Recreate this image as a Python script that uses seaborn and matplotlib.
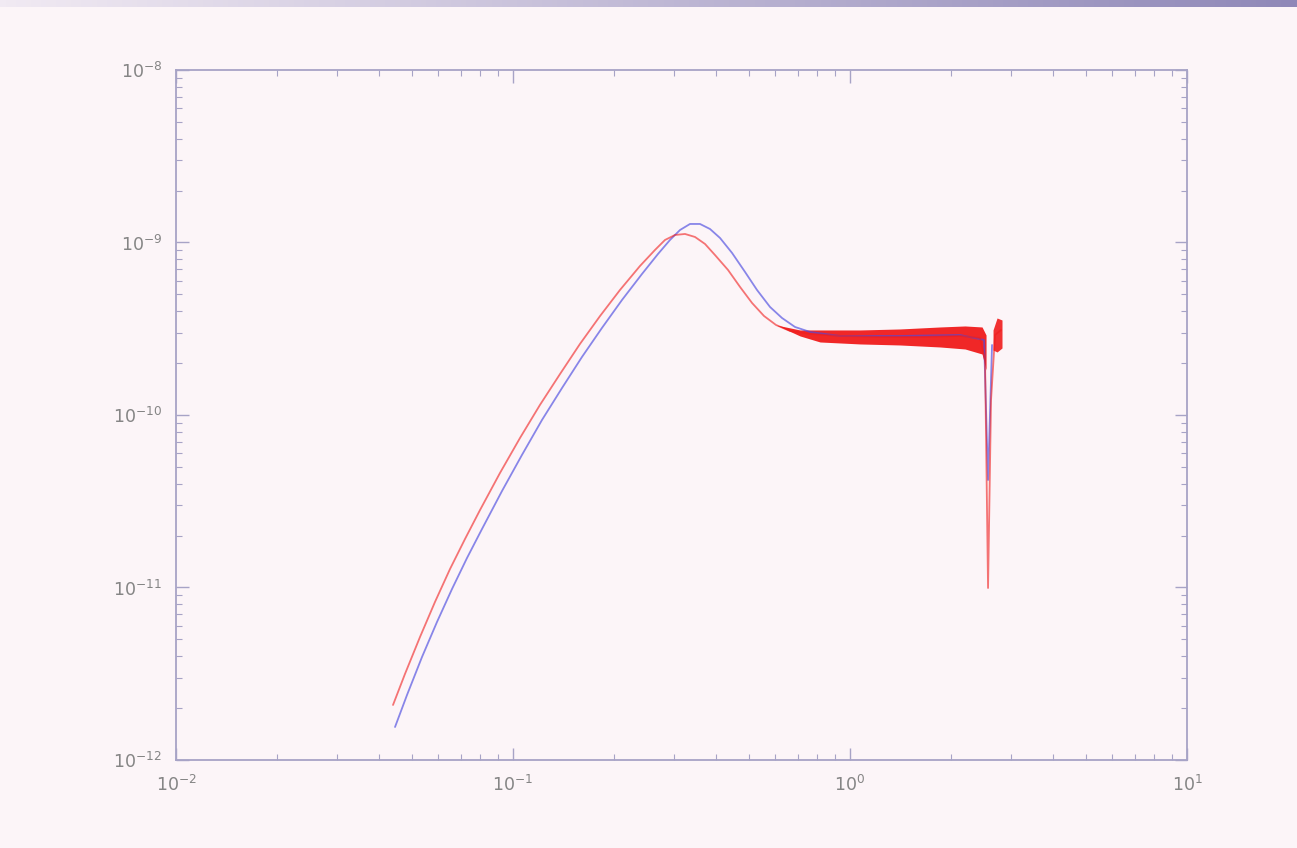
import numpy as np
import pandas as pd
import matplotlib
matplotlib.use("Agg")
import matplotlib.pyplot as plt
import seaborn as sns

# Data (log-log spectrum, two runs)
red_x = [0.04405, 0.04780, 0.05297, 0.05867, 0.06503, 0.07205, 0.07983, 0.09149,
         0.1049, 0.1202, 0.1379, 0.1580, 0.1813, 0.2077, 0.2381, 0.2638, 0.2825,
         0.3025, 0.3239, 0.3468, 0.3713, 0.3974, 0.4345, 0.4718, 0.5120, 0.5556,
         0.6032, 0.6637, 0.7609, 0.9339, 1.2274, 1.6133, 2.120, 2.431, 2.516,
         2.568, 2.621, 2.694, 2.806]
red_y = [2.084e-12, 3.152e-12, 5.164e-12, 8.237e-12, 1.280e-11, 1.911e-11, 2.813e-11,
         4.611e-11, 7.357e-11, 1.143e-10, 1.728e-10, 2.580e-10, 3.749e-10, 5.304e-10,
         7.305e-10, 9.047e-10, 1.034e-9, 1.105e-9, 1.120e-9, 1.076e-9, 9.802e-10,
         8.462e-10, 6.929e-10, 5.521e-10, 4.460e-10, 3.749e-10, 3.324e-10, 3.069e-10,
         2.948e-10, 2.871e-10, 2.832e-10, 2.832e-10, 2.871e-10, 2.795e-10, 2.084e-10,
         9.93e-12, 1.222e-10, 2.909e-10, 3.110e-10]

blue_x = [0.04466, 0.04847, 0.05370, 0.05949, 0.06592, 0.07304, 0.08091, 0.09277,
          0.1063, 0.1219, 0.1398, 0.1602, 0.1836, 0.2106, 0.2414, 0.2693, 0.2923,
          0.3130, 0.3351, 0.3588, 0.3842, 0.4114, 0.4467, 0.4881, 0.5297, 0.5790,
          0.6283, 0.6867, 0.7609, 0.9339, 1.407, 2.120, 2.499, 2.568, 2.639]
blue_y = [1.553e-12, 2.381e-12, 3.954e-12, 6.310e-12, 9.80e-12, 1.483e-11, 2.183e-11,
          3.626e-11, 5.863e-11, 9.355e-11, 1.434e-10, 2.169e-10, 3.194e-10, 4.642e-10,
          6.567e-10, 8.577e-10, 1.034e-9, 1.181e-9, 1.280e-9, 1.280e-9, 1.197e-9,
          1.062e-9, 8.693e-10, 6.745e-10, 5.304e-10, 4.227e-10, 3.650e-10, 3.237e-10,
          3.029e-10, 2.871e-10, 2.871e-10, 2.909e-10, 2.721e-10, 4.198e-11, 2.545e-10]

# noisy envelope of the red plateau
band_x = [0.6032, 0.7107, 0.8148, 1.071, 1.407, 1.850, 2.194, 2.465, 2.533]
band_hi = [3.324e-10, 3.110e-10, 3.110e-10, 3.110e-10, 3.152e-10, 3.237e-10, 3.281e-10,
           3.237e-10, 2.909e-10]
band_lo = [3.324e-10, 2.871e-10, 2.649e-10, 2.580e-10, 2.545e-10, 2.478e-10, 2.413e-10,
           2.257e-10, 1.823e-10]

spike_x = [2.657, 2.731, 2.825]
spike_hi = [3.110e-10, 3.650e-10, 3.553e-10]
spike_lo = [2.380e-10, 2.318e-10, 2.445e-10]

x_ticks = [1e-2, 1e-1, 1e0, 1e1]
y_ticks = [1e-12, 1e-11, 1e-10, 1e-9, 1e-8]

BG = "#fcf5f8"
AXC = "#a7a3c6"
RED = "#f01c1c"
BLUE = "#4a4ae0"

sns.set_theme(style="ticks")
plt.rcParams['font.family'] = ['DejaVu Sans']

fig = plt.figure(figsize=(12.97, 8.48), dpi=100, facecolor=BG)

# purple strip along the top edge of the slide
strip_cmap = matplotlib.colors.LinearSegmentedColormap.from_list("s", ["#f1eaf3", "#8f88b8"])
strip_img = strip_cmap(np.repeat(np.linspace(0, 1, 1297)[None, :], 7, axis=0))
fig.figimage(strip_img, xo=0, yo=841, origin="upper")

ax = fig.add_axes([0.1357, 0.1038, 0.7795, 0.8137], facecolor=BG)
ax.set_xscale("log")
ax.set_yscale("log")

red = pd.DataFrame({"x": red_x, "y": red_y})
blue = pd.DataFrame({"x": blue_x, "y": blue_y})

sns.lineplot(data=blue, x="x", y="y", ax=ax, color=BLUE, lw=1.3, alpha=0.65, sort=False)
sns.lineplot(data=red, x="x", y="y", ax=ax, color=RED, lw=1.3, alpha=0.6, sort=False)
ax.fill_between(band_x, band_lo, band_hi, color=RED, lw=0, alpha=0.95)
ax.fill_between(spike_x, spike_lo, spike_hi, color=RED, lw=0, alpha=0.9)

ax.set_xticks(x_ticks)
ax.set_yticks(y_ticks)
ax.set_xlim(1e-2, 1e1)
ax.set_ylim(1e-12, 1e-8)
ax.set_xlabel("")
ax.set_ylabel("")

for s in ax.spines.values():
    s.set_color(AXC)
    s.set_linewidth(1.3)
ax.tick_params(which="both", direction="in", top=True, right=True, colors=AXC,
               labelcolor="#858585", labelsize=12.5)
ax.tick_params(which="major", length=9, width=1)
ax.tick_params(which="minor", length=4.5, width=0.8)
ax.tick_params(axis="x", pad=11)
ax.tick_params(axis="y", pad=10)

fig.savefig("out.png", dpi=100, facecolor=BG)
